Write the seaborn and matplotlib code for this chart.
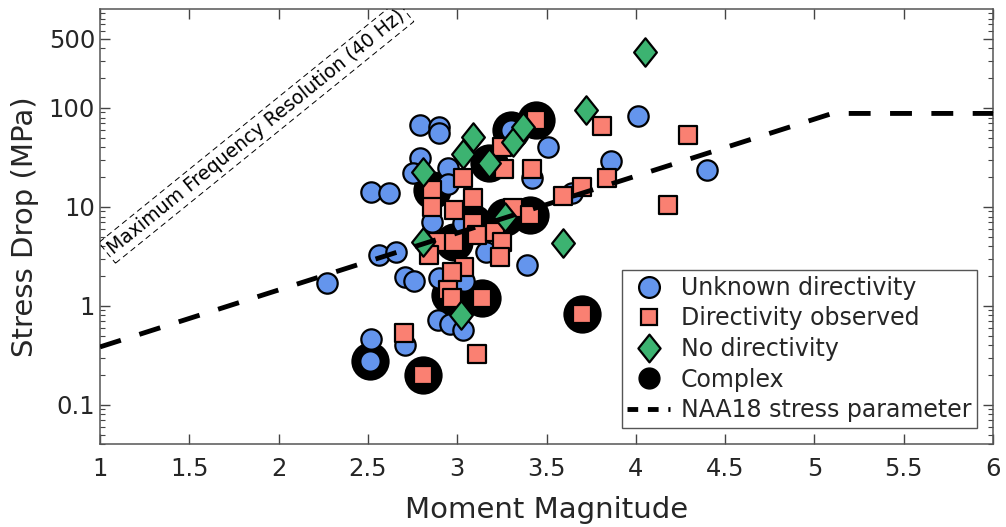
import numpy as np
import pandas as pd
import matplotlib
matplotlib.use("Agg")
import matplotlib.pyplot as plt
from matplotlib.lines import Line2D
from matplotlib.path import Path
import seaborn as sns

# ---- event catalogue (moment magnitude, stress drop in MPa) ----
unknown_mag = [2.27, 2.52, 2.62, 2.52, 2.51, 2.71, 2.56, 2.66, 2.71, 2.76,
               2.79, 2.90, 2.90, 2.79, 2.75, 2.95, 2.95, 2.89, 2.96, 3.03,
               2.86, 3.03, 3.16, 3.39, 2.90, 3.04, 3.42, 3.51, 3.86, 4.01,
               4.40, 3.64, 3.30]
unknown_stress = [1.7, 14.2, 13.8, 0.46, 0.28, 0.40, 3.3, 3.5, 1.95, 1.8,
                  67, 64, 56, 31, 22, 25, 17, 0.72, 0.65, 0.57,
                  7.0, 6.9, 3.5, 2.6, 1.9, 1.8, 19.5, 40, 29, 83,
                  23.5, 13.8, 60]

observed_mag = [2.70, 3.11, 2.81, 3.81, 4.29, 4.18, 3.84, 3.70, 3.59, 3.44,
                3.25, 3.26, 3.42, 3.03, 3.09, 2.86, 2.86, 2.98, 3.09, 3.11,
                3.21, 3.25, 3.31, 3.41, 2.89, 2.98, 2.84, 3.24, 3.04, 2.97,
                2.95, 2.97, 3.14, 3.70]
observed_stress = [0.53, 0.33, 0.20, 66, 53, 10.5, 19.6, 15.9, 13.0, 75,
                   40, 24, 24, 19.5, 12.3, 14.8, 10.0, 9.3, 6.9, 5.2,
                   5.6, 4.4, 9.8, 8.3, 4.4, 4.4, 3.3, 3.1, 2.5, 2.2,
                   1.45, 1.2, 1.2, 0.82]

nodir_mag = [4.05, 3.72, 3.59, 3.09, 3.03, 3.31, 3.37, 3.18, 2.81, 3.27,
             2.81, 3.02]
nodir_stress = [370, 95, 4.3, 51, 34, 45, 64, 28, 22.6, 7.9,
                4.4, 0.80]

complex_mag = [2.51, 2.81, 3.70, 3.14, 2.96, 2.86, 2.98, 3.09, 3.27, 3.41,
               3.18, 3.30, 3.44]
complex_stress = [0.28, 0.20, 0.82, 1.2, 1.3, 14.8, 4.4, 6.9, 7.9, 8.3,
                  28, 60, 75]

# NAA18 magnitude-dependent stress parameter
naa18_mag = [1.0, 5.1, 6.0]
naa18_stress = [0.385, 88, 88]

x_ticks = [1, 1.5, 2, 2.5, 3, 3.5, 4, 4.5, 5, 5.5, 6]
x_tick_labels = ["1", "1.5", "2", "2.5", "3", "3.5", "4", "4.5", "5", "5.5", "6"]
y_ticks = [0.1, 1, 10, 100, 500]
y_tick_labels = ["0.1", "1", "10", "100", "500"]

blue = "#6495ED"
salmon = "#FA8072"
green = "#3CB371"
ink = "#262626"

sns.set_style("ticks")
plt.rcParams["font.family"] = ["DejaVu Sans"]

fig = plt.figure(figsize=(10.06, 5.27), dpi=100)
ax = fig.add_axes([0.0994, 0.157, 0.8877, 0.826])

diamond = Path([(0, 1), (0.8, 0), (0, -1), (-0.8, 0), (0, 1)],
               [Path.MOVETO, Path.LINETO, Path.LINETO, Path.LINETO, Path.CLOSEPOLY])

df_c = pd.DataFrame({"mag": complex_mag, "stress": complex_stress})
df_u = pd.DataFrame({"mag": unknown_mag, "stress": unknown_stress})
df_o = pd.DataFrame({"mag": observed_mag, "stress": observed_stress})
df_n = pd.DataFrame({"mag": nodir_mag, "stress": nodir_stress})
df_l = pd.DataFrame({"mag": naa18_mag, "stress": naa18_stress})

sns.scatterplot(data=df_c, x="mag", y="stress", ax=ax, color="black", s=760,
                marker="o", edgecolor="black", linewidth=0, zorder=2, legend=False)
sns.scatterplot(data=df_u, x="mag", y="stress", ax=ax, color=blue, s=215,
                marker="o", edgecolor="black", linewidth=1.6, zorder=3, legend=False)
sns.scatterplot(data=df_o, x="mag", y="stress", ax=ax, color=salmon, s=150,
                marker="s", edgecolor="black", linewidth=1.6, zorder=4, legend=False)
sns.scatterplot(data=df_n, x="mag", y="stress", ax=ax, color=green, s=420,
                marker=diamond, edgecolor="black", linewidth=1.6, zorder=5, legend=False)
sns.lineplot(data=df_l, x="mag", y="stress", ax=ax, color="black", lw=3.5,
             dashes=False, zorder=6, legend=False)
ax.lines[-1].set_dashes((4.5, 4))

ax.set_yscale("log")
ax.set_xlim(1, 6)
ax.set_ylim(0.04, 1000)
ax.set_xticks(x_ticks)
ax.set_xticklabels(x_tick_labels)
ax.set_yticks(y_ticks)
ax.set_yticklabels(y_tick_labels)
ax.yaxis.set_minor_formatter(matplotlib.ticker.NullFormatter())

ax.tick_params(which="both", direction="in", top=True, right=True,
               labelsize=17.5, colors="#444444", labelcolor=ink)
ax.tick_params(which="major", length=7, width=1)
ax.tick_params(which="minor", length=3.5, width=0.8)
ax.tick_params(axis="x", pad=9)
for sp in ax.spines.values():
    sp.set_color("#555555")
    sp.set_linewidth(1.1)

ax.set_xlabel("Moment Magnitude", fontsize=21, color=ink, labelpad=11)
ax.set_ylabel("Stress Drop (MPa)", fontsize=21, color=ink, labelpad=7)

# annotation along the 40 Hz resolution limit
ax.text(1.875, 57, "Maximum Frequency Resolution (40 Hz)", fontsize=13.6,
        rotation=39, rotation_mode="anchor", ha="center", va="center",
        color="black", clip_on=True, zorder=7,
        bbox=dict(boxstyle="square,pad=0.2", fc="none", ec="black",
                  ls=(0, (6, 4)), lw=0.7))

handles = [
    Line2D([], [], ls="none", marker="o", markersize=15, markerfacecolor=blue,
           markeredgecolor="black", markeredgewidth=1.6),
    Line2D([], [], ls="none", marker="s", markersize=12, markerfacecolor=salmon,
           markeredgecolor="black", markeredgewidth=1.6),
    Line2D([], [], ls="none", marker=diamond, markersize=20, markerfacecolor=green,
           markeredgecolor="black", markeredgewidth=1.6),
    Line2D([], [], ls="none", marker="o", markersize=15, markerfacecolor="black",
           markeredgecolor="black"),
    Line2D([], [], color="black", lw=3.5, dashes=(2.2, 2)),
]
labels = ["Unknown directivity", "Directivity observed", "No directivity",
          "Complex", "NAA18 stress parameter"]
leg = ax.legend(handles, labels, loc="lower right", bbox_to_anchor=(0.982, 0.037),
                borderaxespad=0, fontsize=17, frameon=True, fancybox=False,
                edgecolor="#555555", framealpha=1, handlelength=1.8,
                handletextpad=0.45, labelspacing=0.28, borderpad=0.25)
leg.get_frame().set_linewidth(1.0)
leg.set_zorder(10)

fig.savefig("out.png", dpi=100)
